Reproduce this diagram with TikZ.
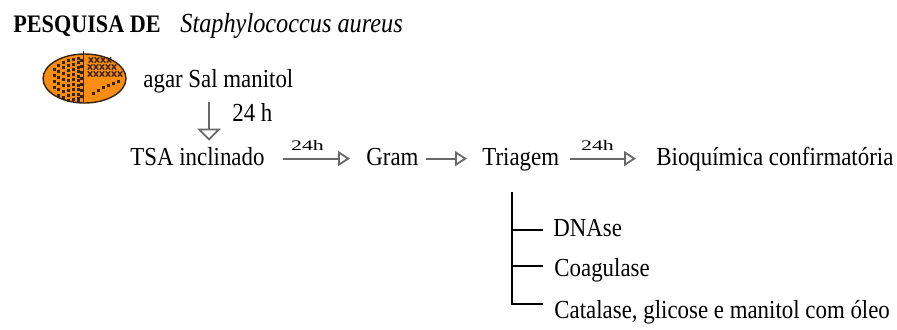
\documentclass[tikz,border=0pt]{standalone}
\usepackage{fontspec}
\setmainfont{Liberation Serif}[FakeStretch=0.88]
\usetikzlibrary{arrows.meta}
\definecolor{dishfill}{RGB}{250,140,15}
\definecolor{dishline}{RGB}{55,35,20}
\definecolor{flowgray}{RGB}{105,105,105}
\begin{document}
\begin{tikzpicture}[x=0.5pt,y=-0.5pt,
  txtnode/.style={inner sep=0pt, anchor=base west, font=\fontsize{13}{15}\selectfont,
                  text height=1.4ex, text depth=0pt},
  flow/.style={draw=flowgray, line width=1pt,
               -{Triangle[open, length=6pt, width=7.5pt, line width=0.9pt]}},
  downflow/.style={draw=flowgray, line width=1pt,
               -{Triangle[open, length=6pt, width=12pt, line width=0.9pt]}},
  hours/.style={inner sep=0pt, anchor=base, font=\fontsize{7.3}{8}\selectfont},
  branch/.style={draw=black, line width=1pt},
  speck/.style={fill=dishline},
  cross/.style={draw=dishline, line width=0.65pt}]
\useasboundingbox (0,0) rectangle (897,329);

% heading
\node[txtnode, font=\bfseries\fontsize{12.6}{15}\selectfont] (head1) at (13,32) {PESQUISA DE};
\node[txtnode, font=\itshape\fontsize{13.8}{16}\selectfont] (head2) at (180,32) {Staphylococcus aureus};

% petri dish with streaked colonies
\fill[dishfill] (84.5,78.5) ellipse [x radius=41.5, y radius=24.5];
\foreach \x/\ys in {53/{68,74,80,86},
                    57/{64,70,76,82,88,94},
                    62/{61,66,72,78,84,90,96},
                    67/{59,64,69,74,79,84,89,94,99},
                    72/{58,63,68,73,78,83,88,93,98},
                    77/{57,61,66,70,75,79,84,88,93,97,100},
                    80/{59,65,71,77,83,89,95}}{
  \foreach \y in \ys {\fill[speck] (\x,\y) rectangle +(2.6,2.6);}
}
\foreach \x/\y in {91/60,97/60,103/60,109/60,
                   90/67,96/67,102/67,108/67,114/67,
                   90/74,96/74,102/74,108/74,114/74,120/74}{
  \draw[cross] (\x-2.2,\y-2.6) -- (\x+2.2,\y+2.6) (\x-2.2,\y+2.6) -- (\x+2.2,\y-2.6);
}
\foreach \x/\y in {92/92,97/89,102/86,107/84,112/82,117/80}{
  \fill[speck] (\x,\y) rectangle +(2.8,2.8);
}
\draw[dishline, line width=0.9pt] (83.5,51) -- (83.5,103);
\draw[dishline, line width=0.7pt] (84.5,78.5) ellipse [x radius=41.5, y radius=24.5];

% flow
\node[txtnode] (agar) at (143,87) {agar Sal manitol};
\node[txtnode] (hrs) at (232,121.5) {24 h};
\node[txtnode] (tsa) at (130,165) {TSA inclinado};
\node[txtnode] (gram) at (366,165) {Gram};
\node[txtnode] (tri) at (482,165) {Triagem};
\node[txtnode] (bio) at (656,165) {Bioquímica confirmatória};

\coordinate (dtop) at (209,102);
\draw[downflow, shorten <=7.5pt, shorten >=5.6pt] (agar.south -| dtop) -- (tsa.north -| dtop);

\draw[flow, shorten <=9pt, shorten >=8pt] (tsa.east) -- (gram.west);
\draw[flow, shorten <=3.5pt, shorten >=7.5pt] (gram.east) -- (tri.west);
\draw[flow, shorten <=5.2pt, shorten >=10pt] (tri.east) -- (bio.west);
\node[hours] (h1) at (307.5,150) {\scalebox{1.7}[1]{24h}};
\node[hours] (h2) at (597.5,150) {\scalebox{1.7}[1]{24h}};

% confirmation tests
\node[txtnode] (dna) at (553,236.5) {DNAse};
\node[txtnode] (coag) at (554,276.5) {Coagulase};
\node[txtnode] (cat) at (554,318) {Catalase, glicose e manitol com óleo};

\coordinate (br0) at (512,192);
\coordinate (k1) at (543,230);
\coordinate (k2) at (543,266);
\coordinate (k3) at (543,304);
\draw[branch] (br0) |- (k3);
\draw[branch] (br0 |- k1) -- (k1);
\draw[branch] (br0 |- k2) -- (k2);
\end{tikzpicture}
\end{document}
